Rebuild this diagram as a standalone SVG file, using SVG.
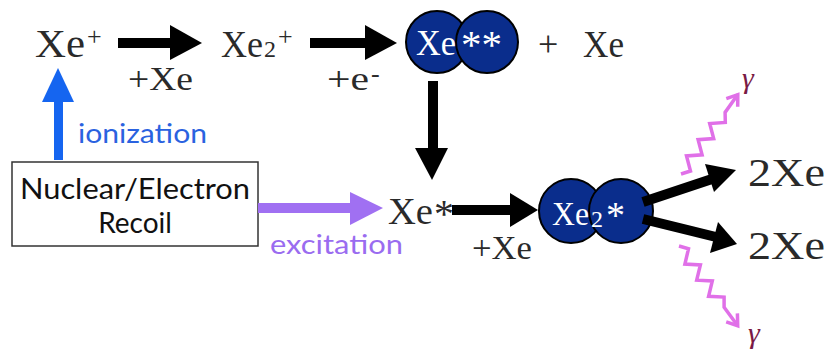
<svg xmlns="http://www.w3.org/2000/svg" width="826" height="352" viewBox="0 0 826 352">
<defs>
<style>
.s{font-family:"Liberation Serif","DejaVu Serif",serif;fill:#2a2a2a}
.w{font-family:"Liberation Serif","DejaVu Serif",serif;fill:#ffffff}
.g{font-family:Lato,"Open Sans","Liberation Sans",sans-serif}
.atom{fill:#0a2d8c;stroke:#000;stroke-width:2}
.wave{fill:none;stroke:#e070e8;stroke-width:3.5;stroke-linejoin:miter}
.gam{font-family:"Liberation Serif",serif;font-style:italic;fill:#7a1a45;font-size:30px}
</style>
</defs>
<rect width="826" height="352" fill="#fff"/>

<g id="xe-plus">
<text class="s" x="35" y="57" font-size="39" textLength="50" lengthAdjust="spacingAndGlyphs">Xe</text>
<text class="s" x="87" y="45" font-size="26">+</text>
</g>
<g id="xe2-plus">
<text class="s" x="221" y="57" font-size="37" textLength="42" lengthAdjust="spacingAndGlyphs">Xe</text>
<text class="s" x="264" y="57" font-size="24">2</text>
<text class="s" x="278" y="45" font-size="26">+</text>
</g>
<g id="xe-star-star">
<circle class="atom" cx="437" cy="42" r="31"/>
<circle class="atom" cx="487" cy="42" r="31"/>
<text class="w" x="416" y="55" font-size="35" textLength="40" lengthAdjust="spacingAndGlyphs">Xe</text>
<text class="w" x="461" y="58" font-size="40" textLength="41" lengthAdjust="spacingAndGlyphs">**</text>
</g>
<g id="plus-xe">
<text class="s" x="538" y="56" font-size="36">+</text>
<text class="s" x="583" y="57" font-size="37" textLength="41" lengthAdjust="spacingAndGlyphs">Xe</text>
</g>
<g id="recoil">
<rect x="12" y="162" width="246" height="84" fill="#fff" stroke="#333" stroke-width="1.5"/>
<text class="g" x="20" y="199" font-size="28" textLength="230" lengthAdjust="spacingAndGlyphs" fill="#111">Nuclear/Electron</text>
<text class="g" x="135" y="233" font-size="28" text-anchor="middle" fill="#111">Recoil</text>
</g>
<g id="xe-star">
<text class="s" x="388" y="224" font-size="38" textLength="45" lengthAdjust="spacingAndGlyphs">Xe</text>
<text class="s" x="434" y="227" font-size="40">*</text>
</g>
<g id="xe2-star">
<circle class="atom" cx="571" cy="211" r="32"/>
<circle class="atom" cx="621" cy="211" r="32"/>
<text class="w" x="552" y="225" font-size="34" textLength="37" lengthAdjust="spacingAndGlyphs">Xe</text>
<text class="w" x="591" y="227" font-size="24">2</text>
<text class="w" x="606" y="228" font-size="38">*</text>
</g>
<g id="out-upper">
<text class="s" x="748" y="186" font-size="39" textLength="77" lengthAdjust="spacingAndGlyphs">2Xe</text>
</g>
<g id="out-lower">
<text class="s" x="748" y="259" font-size="39" textLength="77" lengthAdjust="spacingAndGlyphs">2Xe</text>
</g>

<g id="connectors">
<!-- Xe+ -> Xe2+ -->
<rect x="118" y="38" width="54" height="10" fill="#000"/>
<polygon points="170,25 202,43 170,60" fill="#000"/>
<text class="s" x="128" y="90" font-size="33" textLength="65" lengthAdjust="spacingAndGlyphs">+Xe</text>
<!-- Xe2+ -> Xe** -->
<rect x="310" y="38" width="57" height="10" fill="#000"/>
<polygon points="365,25 397,43 365,60" fill="#000"/>
<text class="s" x="327" y="90" font-size="33" textLength="42" lengthAdjust="spacingAndGlyphs">+e</text>
<text class="s" x="371" y="82" font-size="26">-</text>
<!-- Xe** -> Xe* -->
<rect x="428" y="81" width="10" height="69" fill="#000"/>
<polygon points="415,148 448,148 432,180" fill="#000"/>
<!-- ionization -->
<rect x="54" y="100" width="9" height="60" fill="#1565f0"/>
<polygon points="42,102 74,102 58,68" fill="#1565f0"/>
<text class="g" x="78" y="143" font-size="26" textLength="129" lengthAdjust="spacingAndGlyphs" fill="#2a62e0">ionization</text>
<!-- excitation -->
<rect x="258" y="203" width="94" height="10" fill="#a070f2"/>
<polygon points="350,192 383,208 350,225" fill="#a070f2"/>
<text class="g" x="270" y="254" font-size="26" textLength="133" lengthAdjust="spacingAndGlyphs" fill="#9a6cf0">excitation</text>
<!-- Xe* -> Xe2* -->
<rect x="452" y="205" width="60" height="10" fill="#000"/>
<polygon points="510,193 538,210 510,227" fill="#000"/>
<text class="s" x="472" y="259" font-size="33" textLength="60" lengthAdjust="spacingAndGlyphs">+Xe</text>
<!-- Xe2* -> 2Xe -->
<line x1="643" y1="202" x2="715" y2="178" stroke="#000" stroke-width="10"/>
<polygon points="705,164 736,170 714,192" fill="#000"/>
<line x1="643" y1="219" x2="716" y2="237" stroke="#000" stroke-width="10"/>
<polygon points="718,222 737,244 710,253" fill="#000"/>
<!-- photons -->
<polyline class="wave" points="681,174 690.5,171 686.5,155.9 702.1,154.8 698.1,139.7 713.7,138.6 709.7,123.5 725.3,122.4 725.1,112.4 737.8,94.6"/>
<polyline class="wave" points="726.3,98.6 737.8,94.6 737.7,106.8"/>
<text class="gam" x="742" y="88">γ</text>
<polyline class="wave" points="679,246 688.5,248.8 684.9,264.1 700.4,264.9 696.7,280.2 712.3,281 708.6,296.3 724.1,297.1 724.1,307.2 737.7,325.7"/>
<polyline class="wave" points="726.2,321.8 737.7,325.7 737.4,313.4"/>
<text class="gam" x="748" y="343">γ</text>
</g>
</svg>
